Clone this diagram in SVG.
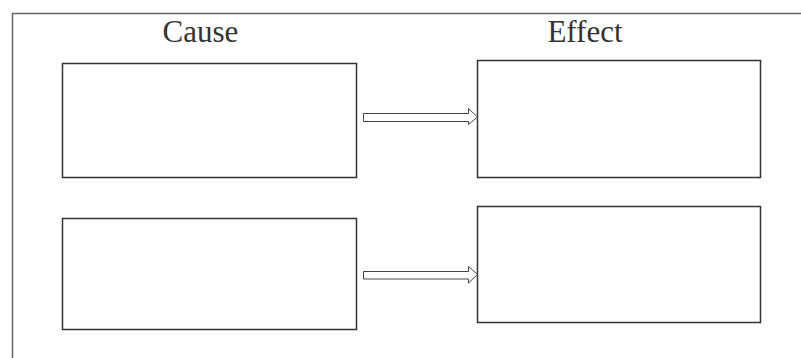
<svg xmlns="http://www.w3.org/2000/svg" width="801" height="358" viewBox="0 0 801 358">
  <style>
    .frame { fill: none; stroke: #666; stroke-width: 1.5; }
    .box { fill: #fff; stroke: #333; stroke-width: 1.5; }
    .arrow { fill: #fff; stroke: #444; stroke-width: 1; }
    .title { font-family: "Liberation Serif", "Times New Roman", serif; font-size: 31px; fill: #333; text-anchor: middle; }
  </style>
  <rect width="801" height="358" fill="#fff"/>
  <!-- page frame: top and left rules -->
  <path class="frame" d="M12 13.5 H801 M12.5 13 V358"/>
  <g id="headings">
    <text class="title" x="200.5" y="42">Cause</text>
    <text class="title" x="585" y="42">Effect</text>
  </g>
  <g id="cause1"><rect class="box" x="62.5" y="63.5" width="294" height="114"/></g>
  <g id="effect1"><rect class="box" x="477.5" y="60.5" width="283" height="117"/></g>
  <g id="cause2"><rect class="box" x="62.5" y="218.5" width="294" height="111"/></g>
  <g id="effect2"><rect class="box" x="477.5" y="206.5" width="283" height="116"/></g>
  <g id="connectors">
    <path class="arrow" d="M363.5 113.5 H468.5 V108.5 L477.5 117 L468.5 124.5 V121.5 H363.5 Z"/>
    <path class="arrow" d="M363.5 271.5 H468.5 V266.5 L477.5 274.5 L468.5 283 V279 H363.5 Z"/>
  </g>
</svg>
